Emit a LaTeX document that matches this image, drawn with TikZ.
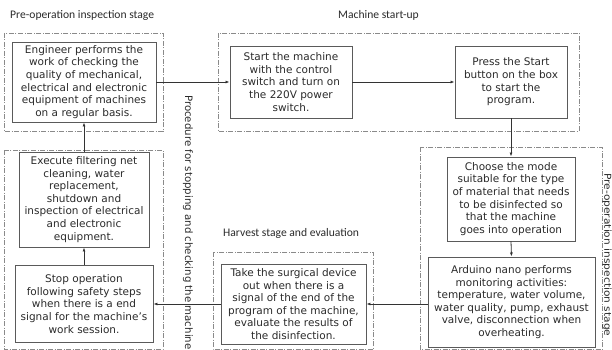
\documentclass[tikz,border=0pt]{standalone}
\usepackage{fontspec}
\setmainfont{DejaVu Sans}
\newfontfamily\titlefont{Carlito}
\usetikzlibrary{arrows.meta}
\definecolor{boxgray}{HTML}{5A5A5A}
\definecolor{grpgray}{HTML}{8A8A8A}
\definecolor{txtgray}{HTML}{2A2A2A}
\begin{document}
\begin{tikzpicture}[x=1pt,y=-1pt,
  box/.style={draw=boxgray, line width=0.95pt, align=center, font=\fontsize{10.5}{12.6}\selectfont, text=txtgray, inner sep=0pt},
  grp/.style={draw=grpgray, line width=0.7pt, dash pattern=on 5pt off 1.5pt on 1pt off 1.5pt},
  arr/.style={draw=black!80, line width=0.8pt, -{Latex[length=4pt,width=3pt]}},
  ttl/.style={font=\titlefont\fontsize{11.6}{13}\selectfont, anchor=west, inner sep=0pt, text=txtgray},
  vtxt/.style={rotate=-90, inner sep=0pt, text=txtgray},
]
\useasboundingbox (0,0) rectangle (612,350);
% groups
\draw[grp] (4,33) rectangle (163,131);
\draw[grp] (4,150) rectangle (163,349);
\draw[grp] (218,33) rectangle (579,131);
\draw[grp] (420,147) rectangle (602,349.5);
\draw[grp] (213,252) rectangle (373,349.5);
% titles
\node[ttl] (t1) at (10,15) {Pre-operation inspection stage};
\node[ttl] (t2) at (338,15) {Machine start-up};
\node[ttl] (t3) at (223,233) {Harvest stage and evaluation};
\node[vtxt, anchor=west, font=\fontsize{10.2}{12}\selectfont] (v1) at (188,95) {Procedure for stopping and checking the machine};
\node[vtxt, anchor=base west, font=\fontsize{9.5}{11}\selectfont] (v2) at (604.3,173) {\scalebox{1.12}[1]{Pre-operation inspection stage}};
% boxes
\node[box, minimum width=144pt, minimum height=80pt] (eng) at (84,82)
  {Engineer performs the\\work of checking the\\quality of mechanical,\\electrical and electronic\\equipment of machines\\on a regular basis.};
\node[box, minimum width=122pt, minimum height=72pt] (start) at (291,82)
  {Start the machine\\with the control\\switch and turn on\\the 220V power\\switch.};
\node[box, minimum width=112pt, minimum height=72pt] (press) at (511,82)
  {Press the Start\\button on the box\\to start the\\program.};
\node[box, minimum width=128pt, minimum height=84pt] (choose) at (511,199)
  {Choose the mode\\suitable for the type\\of material that needs\\to be disinfected so\\that the machine\\goes into operation};
\node[box, minimum width=167pt, minimum height=90pt] (ard) at (511.5,302)
  {Arduino nano performs\\monitoring activities:\\temperature, water volume,\\water quality, pump, exhaust\\valve, disconnection when\\overheating.};
\node[box, minimum width=145pt, minimum height=80pt] (harv) at (293.5,304)
  {Take the surgical device\\out when there is a\\signal of the end of the\\program of the machine,\\evaluate the results of\\the disinfection.};
\node[box, minimum width=138pt, minimum height=77pt] (stop) at (84,304)
  {Stop operation\\following safety steps\\when there is a end\\signal for the machine's\\work session.};
\node[box, minimum width=130pt, minimum height=95pt] (exec) at (84,199.5)
  {Execute filtering net\\cleaning, water\\replacement,\\shutdown and\\inspection of electrical\\and electronic\\equipment.};
% connectors
\draw[arr] (eng.east) -- (start.west);
\draw[arr] (start.east) -- (press.west);
\draw[arr] (press.south) -- (choose.north);
\draw[arr] (choose.south) -- (ard.north);
\draw[arr] (ard.west |- harv.east) -- (harv.east);
\draw[arr] (harv.west) -- (stop.east);
\draw[arr] (stop.north) -- (exec.south);
\draw[arr] (exec.north) -- (eng.south);
\end{tikzpicture}
\end{document}
